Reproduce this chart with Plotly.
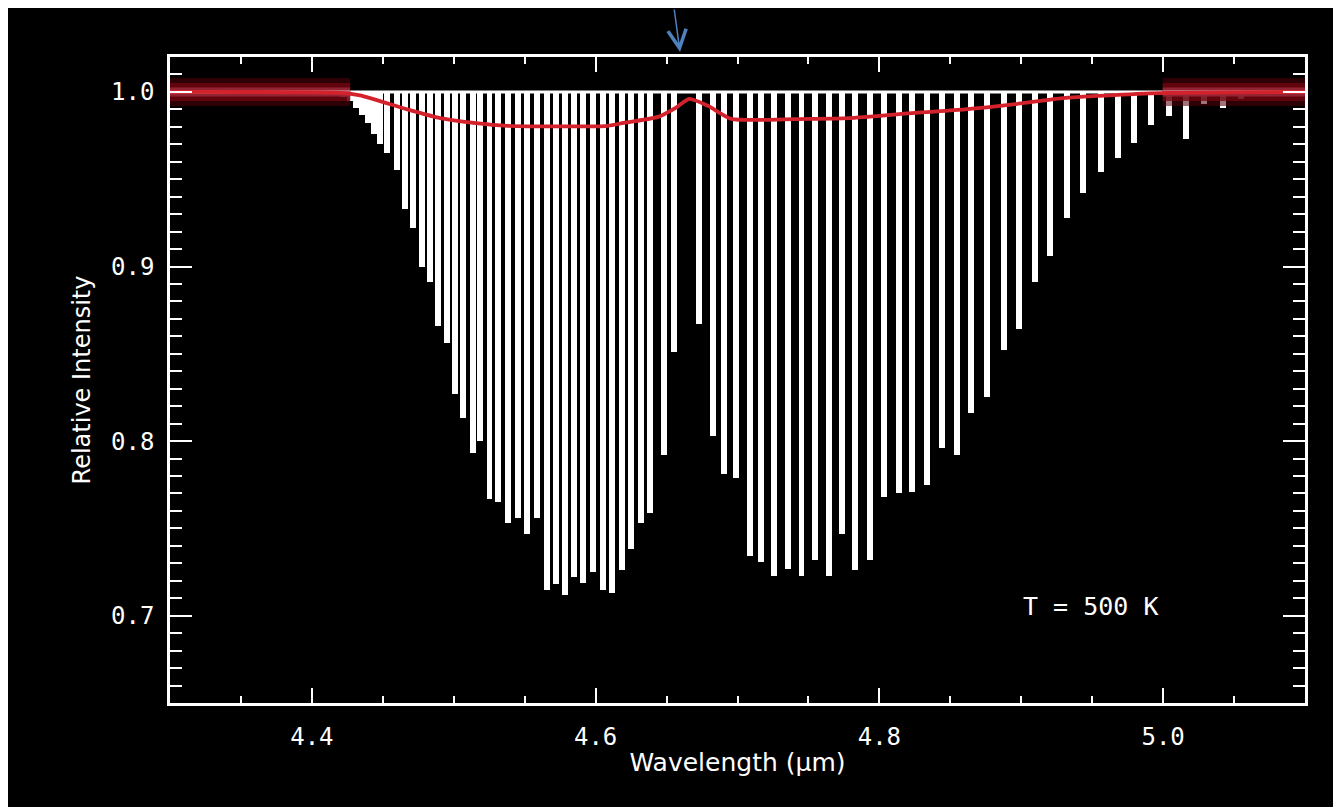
import plotly.graph_objects as go

# ---- data (wavelength in micron, line-centre relative intensity) ----
lam_R = [4.4170, 4.4219, 4.4269, 4.4311, 4.4354, 4.4396, 4.4438, 4.4481, 4.4530, 4.4601,
         4.4658, 4.4714, 4.4778, 4.4834, 4.4891, 4.4955, 4.5011, 4.5068, 4.5139, 4.5188,
         4.5252, 4.5315, 4.5379, 4.5450, 4.5513, 4.5584, 4.5655, 4.5719, 4.5782, 4.5846,
         4.5909, 4.5980, 4.6051, 4.6115, 4.6185, 4.6249, 4.6320, 4.6383, 4.6482, 4.6553]
depth_R = [0.998, 0.997, 0.995, 0.991, 0.987, 0.982, 0.976, 0.970, 0.965, 0.955,
           0.933, 0.922, 0.900, 0.891, 0.866, 0.856, 0.827, 0.813, 0.793, 0.800,
           0.767, 0.765, 0.753, 0.756, 0.747, 0.756, 0.715, 0.718, 0.712, 0.722,
           0.719, 0.725, 0.715, 0.713, 0.726, 0.738, 0.753, 0.759, 0.792, 0.851]

lam_P = [4.6730, 4.6829, 4.6907, 4.6992, 4.7091, 4.7168, 4.7260, 4.7359, 4.7451, 4.7543,
         4.7642, 4.7734, 4.7826, 4.7932, 4.8031, 4.8137, 4.8229, 4.8335, 4.8441, 4.8547,
         4.8646, 4.8759, 4.8880, 4.8986, 4.9099, 4.9205, 4.9325, 4.9438, 4.9559, 4.9679,
         4.9792, 4.9912, 5.0040, 5.0160, 5.0287, 5.0421, 5.0549]
depth_P = [0.867, 0.803, 0.781, 0.779, 0.734, 0.731, 0.723, 0.727, 0.723, 0.732,
           0.723, 0.747, 0.726, 0.732, 0.768, 0.770, 0.771, 0.775, 0.796, 0.792,
           0.816, 0.825, 0.852, 0.864, 0.891, 0.906, 0.928, 0.942, 0.954, 0.962,
           0.971, 0.981, 0.986, 0.973, 0.993, 0.991, 0.996]

continuum_lam = [4.41, 5.07]
continuum_val = [1.0, 1.0]

# low-resolution (smoothed) spectrum, red curve
red_lam = [4.30, 4.4198, 4.4339, 4.4672, 4.4905, 4.5139, 4.5379, 4.6086, 4.6199, 4.6440,
           4.6567, 4.6659, 4.6793, 4.6956, 4.7501, 4.7783, 4.8250, 4.8604, 4.8958, 4.9312,
           5.0019, 5.10]
red_val = [1.0, 0.9994, 0.998, 0.990, 0.985, 0.9823, 0.9806, 0.9806, 0.9823, 0.9857,
           0.991, 0.996, 0.992, 0.9846, 0.9846, 0.985, 0.988, 0.990, 0.993, 0.9966,
           0.9994, 1.0]

glow_lam = [4.30, 4.427, None, 4.9997, 5.10]
glow_val = [1.0, 1.0, None, 1.0, 1.0]

x_ticks = [4.4, 4.6, 4.8, 5.0]
y_ticks = [0.7, 0.8, 0.9, 1.0]
label_T = "T = 500 K"
label_T_pos = (4.949, 0.705)
arrow_lam = 4.6595

# ---- figure ----
FONT = "DejaVu Sans"
MONO = "DejaVu Sans Mono"
W, H = 1333, 799          # page body has an 8 px margin
ml, mr, mt, mb = 162, 36, 49, 104
pw, ph = W - ml - mr, H - mt - mb

lam_all = lam_R + lam_P
depth_all = depth_R + depth_P

fig = go.Figure()
fig.add_trace(go.Scatter(x=continuum_lam, y=continuum_val, mode="lines",
                         line=dict(color="white", width=3), hoverinfo="skip"))
fig.add_trace(go.Bar(x=lam_all, y=[1.0 - d for d in depth_all], base=depth_all,
                     width=0.0042, marker=dict(color="white", line=dict(width=0))))
for wdt, col in [(28, "rgba(80,0,8,0.55)"), (18, "rgba(115,5,18,0.75)"),
                 (9, "rgba(150,40,55,0.9)"), (4, "rgba(195,110,120,0.9)")]:
    fig.add_trace(go.Scatter(x=glow_lam, y=glow_val, mode="lines",
                             line=dict(color=col, width=wdt), hoverinfo="skip"))
fig.add_trace(go.Scatter(x=red_lam, y=red_val, mode="lines",
                         line=dict(color="#d4222c", width=3.8, shape="spline", smoothing=0.6),
                         hoverinfo="skip"))

axis_common = dict(
    showgrid=False, zeroline=False, showline=True, linecolor="white", linewidth=2.5,
    mirror="allticks", ticks="inside", tickcolor="white", tickwidth=2,
    tickfont=dict(family=MONO, size=24, color="white"), tickformat=".1f",
)

fig.update_layout(
    width=W, height=H, autosize=False,
    margin=dict(l=ml, r=mr, t=mt, b=mb, pad=0),
    paper_bgcolor="black", plot_bgcolor="black",
    showlegend=False, bargap=0,
    xaxis=dict(**axis_common, range=[4.3, 5.1], tickvals=x_ticks, ticklen=15,
               ticklabelstandoff=10,
               minor=dict(dtick=0.05, tick0=4.3, ticks="inside", ticklen=7,
                          tickwidth=2, tickcolor="white", showgrid=False),
               title=dict(text="Wavelength (µm)", font=dict(family=FONT, size=25, color="white"),
                          standoff=4)),
    yaxis=dict(**axis_common, range=[0.65, 1.02], tickvals=y_ticks, ticklen=22,
               ticklabelstandoff=8,
               minor=dict(dtick=0.01, tick0=0.65, ticks="inside", ticklen=12,
                          tickwidth=2, tickcolor="white", showgrid=False),
               title=dict(text="Relative Intensity", font=dict(family=FONT, size=24, color="white"),
                          standoff=14)),
    annotations=[
        dict(x=label_T_pos[0], y=label_T_pos[1], xref="x", yref="y", text=label_T,
             showarrow=False, font=dict(family=MONO, size=25, color="white")),
        dict(x=arrow_lam, y=1 + 5 / ph, xref="x", yref="paper", text="",
             showarrow=True, ax=-6, ay=-52, arrowcolor="#4f81bd", arrowwidth=1.5,
             arrowhead=5, arrowsize=2.4),
    ],
)

fig.write_html("out.html")
